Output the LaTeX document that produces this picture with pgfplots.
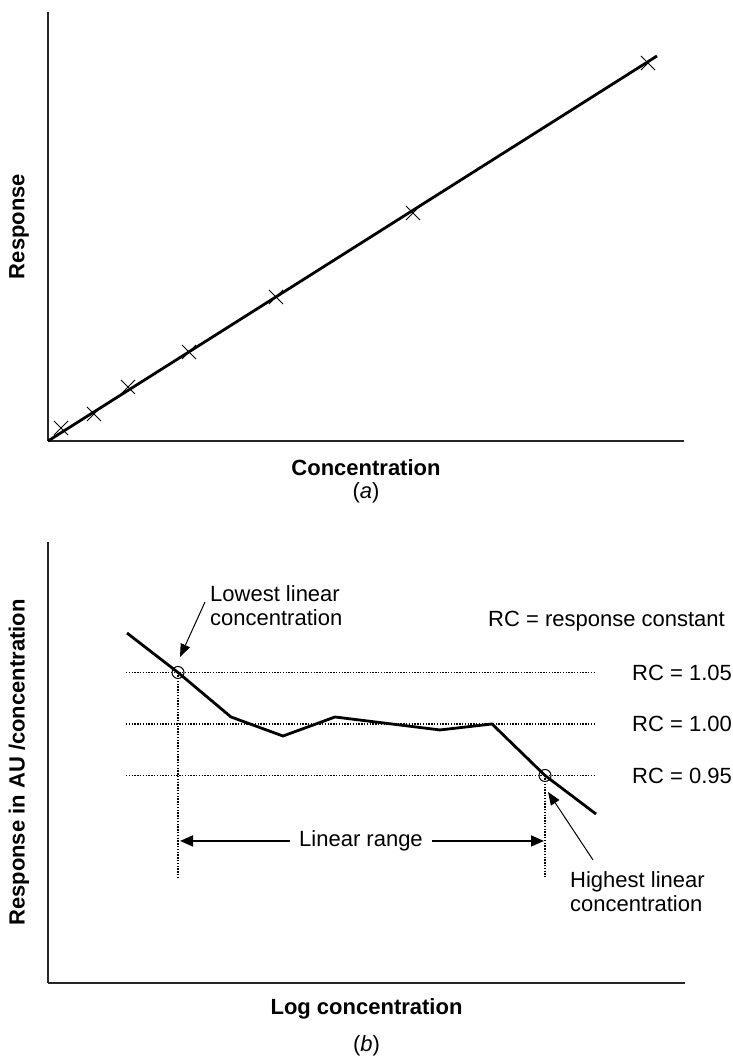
\documentclass[border=0pt]{standalone}
\usepackage{fontspec}
\setmainfont{Liberation Sans}
\usepackage{pgfplots}
\pgfplotsset{compat=1.18}
\usetikzlibrary{arrows.meta}

\begin{document}
\begin{tikzpicture}[font=\fontsize{22}{24}\selectfont]
\path[use as bounding box] (0,0) rectangle (733pt,1060pt);
% ---------- (a) ----------
\begin{axis}[
  at={(48pt,619pt)}, anchor=south west,
  scale only axis, width=636pt, height=429pt,
  xmin=0, xmax=636, ymin=0, ymax=429,
  axis x line*=bottom, axis y line*=left,
  axis line style={line width=1.6pt, -, black!85},
  xtick=\empty, ytick=\empty, clip=false,
  xlabel={\textbf{Concentration}},
  ylabel={\textbf{Response}},
  xlabel style={at={(axis description cs:0.5,-0.063)}, anchor=center},
  ylabel style={at={(axis description cs:-0.0456,0.5)}, anchor=center},
]
\addplot[black, line width=2.8pt] coordinates {(0,0) (609,385)};
\addplot[black, only marks, mark=x, mark size=10pt, mark options={line width=1pt}]
  coordinates {(13,13) (46,27) (80,54) (141,89) (228,144) (365,228) (600,378)};
\node at (axis description cs:0.5,-0.121) {(\textit{a})};
\end{axis}
% ---------- (b) ----------
\begin{axis}[
  at={(48pt,77pt)}, anchor=south west,
  scale only axis, width=637pt, height=441pt,
  xmin=0, xmax=637, ymin=0.7485, ymax=1.1767,
  axis x line*=bottom, axis y line*=left,
  axis line style={line width=1.6pt, -, black!85},
  xtick=\empty, ytick=\empty, clip=false,
  xlabel={\textbf{Log concentration}},
  ylabel={\textbf{Response in AU /concentration}},
  xlabel style={at={(axis description cs:0.5,-0.059)}, anchor=center},
  ylabel style={at={(axis description cs:-0.0455,0.5)}, anchor=center},
  rcline/.style={black, line width=1.1pt, dash pattern=on 1.4pt off 1.4pt},
]
\addplot[rcline] coordinates {(78,1.05) (547,1.05)};
\addplot[rcline] coordinates {(78,1.00) (547,1.00)};
\addplot[rcline] coordinates {(78,0.95) (547,0.95)};
\addplot[rcline] coordinates {(130,1.05) (130,0.8515)};
\addplot[rcline] coordinates {(497,0.95) (497,0.8515)};
\addplot[black, line width=2.8pt] coordinates {(79,1.0883) (130,1.05) (183,1.0068) (235,0.9883) (287,1.0068) (392,0.9942) (444,1.0) (497,0.95) (548,0.9126)};
\addplot[black, only marks, mark=o, mark size=6pt, mark options={line width=1pt, fill=none}]
  coordinates {(130,1.05) (497,0.95)};
% linear range
\draw[{Triangle[length=13pt,width=11pt]}-{Triangle[length=13pt,width=11pt]}, line width=1.7pt]
  (axis cs:132,0.8864) -- (axis cs:496,0.8864);
\node[fill=white, inner xsep=9pt, inner ysep=2pt, text height=16pt, text depth=4pt] at (axis cs:313,0.8864) {Linear range};
% annotations
\draw[-{Triangle[length=13pt,width=10pt]}, line width=1pt] (axis cs:157,1.1184) -- (axis cs:132,1.065);
\draw[-{Triangle[length=13pt,width=10pt]}, line width=1pt] (axis cs:545,0.868) -- (axis cs:500,0.934);
\node[anchor=west, align=left, inner sep=0pt] at (axis cs:162,1.1146) {Lowest linear\\concentration};
\node[anchor=west, align=left, inner sep=0pt] at (axis cs:522,0.8374) {Highest linear\\concentration};
\node[anchor=west, inner sep=0pt, text height=16pt, text depth=0pt] at (axis cs:440,1.1029) {RC = response constant};
\node[anchor=west, inner sep=0pt, text height=16pt, text depth=0pt] at (axis cs:584,1.05) {RC = 1.05};
\node[anchor=west, inner sep=0pt, text height=16pt, text depth=0pt] at (axis cs:584,1.00) {RC = 1.00};
\node[anchor=west, inner sep=0pt, text height=16pt, text depth=0pt] at (axis cs:584,0.95) {RC = 0.95};
\node at (axis description cs:0.5,-0.143) {(\textit{b})};
\end{axis}
\end{tikzpicture}
\end{document}
